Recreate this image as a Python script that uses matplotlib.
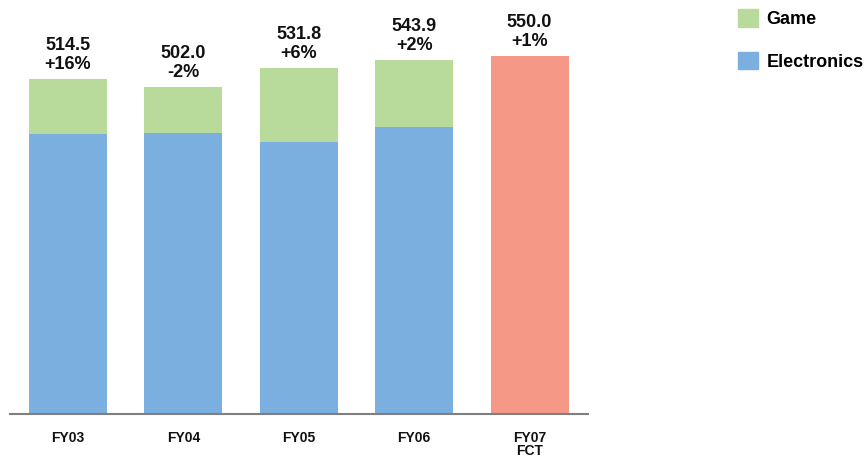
import matplotlib
matplotlib.use("Agg")
import matplotlib.pyplot as plt
from matplotlib.patches import Patch

# values
years = ["FY03", "FY04", "FY05", "FY06", "FY07\nFCT"]
electronics = [430.0, 432.0, 418.0, 440.0]
game = [84.5, 70.0, 113.8, 103.9]
forecast = 550.0
totals = [514.5, 502.0, 531.8, 543.9, 550.0]
growth = ["+16%", "-2%", "+6%", "+2%", "+1%"]

blue = "#7aafdf"
green = "#b8da9a"
salmon = "#f69886"

plt.rcParams["font.family"] = ["Liberation Sans", "DejaVu Sans"]

fig = plt.figure(figsize=(8.66, 4.57), dpi=100)
ax = fig.add_axes([10 / 866, 43 / 457, 578 / 866, 414 / 457])

x = list(range(len(years)))
w = 0.676
ax.bar(x[:4], electronics, width=w, color=blue, zorder=2)
ax.bar(x[:4], game, width=w, bottom=electronics, color=green, zorder=2)
ax.bar(x[4], forecast, width=w, color=salmon, zorder=2)

for xi, t, g in zip(x, totals, growth):
    ax.annotate(f"{t:.1f}\n{g}", (xi, t), xytext=(0, 4), textcoords="offset points",
                ha="center", va="bottom", fontsize=13, fontweight="bold",
                linespacing=1.15, color="#111111")

ax.set_xlim(-0.503, 4.507)
ax.set_ylim(0, 414 * 1.535)
ax.set_xticks(x)
ax.set_xticklabels(years, fontsize=10, fontweight="bold", linespacing=0.95, color="#111111")
ax.tick_params(axis="x", length=0, pad=12)
ax.set_yticks([])
for s in ["top", "right", "left"]:
    ax.spines[s].set_visible(False)
ax.spines["bottom"].set_color("#7f7f7f")
ax.spines["bottom"].set_linewidth(1.5)
ax.spines["bottom"].set_zorder(3)

handles = [Patch(color=green, label="Game"), Patch(color=blue, label="Electronics")]
fig.legend(handles=handles, loc="upper left", bbox_to_anchor=(738 / 866, 1 - 9 / 457),
           frameon=False, prop={"weight": "bold", "size": 13}, borderpad=0, borderaxespad=0,
           handlelength=1.12, handleheight=1.12, handletextpad=0.45, labelspacing=1.32)

fig.savefig("out.png", dpi=100)
